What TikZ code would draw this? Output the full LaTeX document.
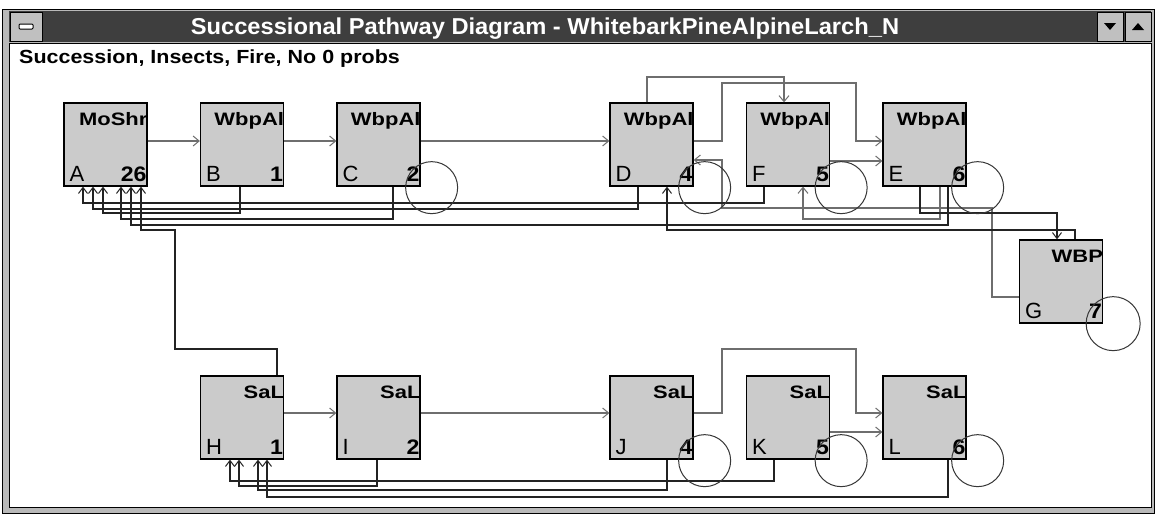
\documentclass[tikz,border=0pt]{standalone}
\usepackage{fontspec}
\setmainfont{Liberation Sans}
\usetikzlibrary{arrows.meta,calc}
\definecolor{boxgray}{RGB}{203,203,203}
\definecolor{sucgray}{RGB}{110,110,110}
\definecolor{disblack}{RGB}{35,35,35}
\definecolor{titlegray}{RGB}{62,62,62}
\definecolor{framegray}{RGB}{185,185,185}
\definecolor{btngray}{RGB}{192,192,192}
\definecolor{loopgray}{RGB}{55,55,55}
\newcommand{\stlabels}[4]{%
  \node[toplab] (#1t) at ([yshift=-23pt]#1.north east) {\scalebox{1.22}[1]{#2}};
  \node[letlab] (#1l) at ([xshift=6pt,yshift=5pt]#1.south west) {#3};
  \node[numlab] (#1n) at ([xshift=-1pt,yshift=5pt]#1.south east) {\scalebox{1.1}[1]{#4}};
}
\begin{document}
\begin{tikzpicture}[x=1pt,y=-1pt,
  statebox/.style={draw=black, line width=1.3pt, fill=boxgray, minimum width=83pt, minimum height=83pt, inner sep=0pt},
  toplab/.style={font=\fontsize{18}{18}\selectfont\bfseries, inner sep=0pt, anchor=base east},
  letlab/.style={font=\fontsize{22}{22}\selectfont, inner sep=0pt, anchor=base west},
  numlab/.style={font=\fontsize{21}{21}\selectfont\bfseries, inner sep=0pt, anchor=base east},
  suc/.style={draw=sucgray, line width=1.1pt, -{Straight Barb[length=6pt,width=10pt,line width=1pt]}},
  dis/.style={draw=disblack, line width=1.3pt, -{Straight Barb[length=6pt,width=9pt,line width=1pt]}},
  selfloop/.style={draw=loopgray, line width=1pt},
  btn/.style={fill=btngray, draw=black, line width=0.8pt}
]
\useasboundingbox (0,0) rectangle (1156,514);
\fill[white] (0,0) rectangle (1156,514);
% window frame
\filldraw[fill=framegray, draw=black, line width=1pt] (2,9) rectangle (1154,513);
\fill[titlegray] (9,11) rectangle (1151,42);
\filldraw[fill=white, draw=black, line width=1pt] (9,43) rectangle (1151,507);
% system menu and buttons
\filldraw[btn] (10,12) rectangle (42,41);
\filldraw[fill=white, draw=black, line width=1pt, rounded corners=1pt] (19,24) rectangle (33,29);
\filldraw[btn] (1097,12) rectangle (1123,41);
\filldraw[btn] (1125,12) rectangle (1151,41);
\fill[black] (1104,23) -- (1116,23) -- (1110,30) -- cycle;
\fill[black] (1132,30) -- (1144,30) -- (1138,23) -- cycle;
\node[anchor=base, text=white, inner sep=0pt, font=\fontsize{23}{23}\selectfont\bfseries] (title) at (545,34)
  {\scalebox{1.03}[1]{Successional Pathway Diagram - WhitebarkPineAlpineLarch\_N}};
\node[anchor=base west, inner sep=0pt, font=\fontsize{19}{19}\selectfont\bfseries] (sub) at (19,63)
  {\scalebox{1.13}[1]{Succession, Insects, Fire, No 0 probs}};
% state boxes
\node[statebox] (A) at (105.5,144.5) {};
\node[statebox] (B) at (242,144.5) {};
\node[statebox] (C) at (378.5,144.5) {};
\node[statebox] (D) at (651.5,144.5) {};
\node[statebox] (F) at (788,144.5) {};
\node[statebox] (E) at (924.5,144.5) {};
\node[statebox] (G) at (1061,281.5) {};
\node[statebox] (H) at (242,417.5) {};
\node[statebox] (I) at (378.5,417.5) {};
\node[statebox] (J) at (651.5,417.5) {};
\node[statebox] (K) at (788,417.5) {};
\node[statebox] (L) at (924.5,417.5) {};
\stlabels{A}{MoShr}{A}{26}
\stlabels{B}{WbpAl}{B}{1}
\stlabels{C}{WbpAl}{C}{2}
\stlabels{D}{WbpAl}{D}{4}
\stlabels{F}{WbpAl}{F}{5}
\stlabels{E}{WbpAl}{E}{6}
\stlabels{G}{WBP}{G}{7}
\stlabels{H}{SaL}{H}{1}
\stlabels{I}{SaL}{I}{2}
\stlabels{J}{SaL}{J}{4}
\stlabels{K}{SaL}{K}{5}
\stlabels{L}{SaL}{L}{6}
% succession (gray) pathways, top row
\draw[suc] (A.east |- 0,141) -- (B.west |- 0,141);
\draw[suc] (B.east |- 0,141) -- (C.west |- 0,141);
\draw[suc] (C.east |- 0,141) -- (D.west |- 0,141);
\draw[suc] (D.north -| 647,0) -- (647,77) -- (784,77) -- (F.north -| 784,0);
\draw[suc] (D.east |- 0,141) -- (722,141) -- (722,83) -- (856,83) -- (856,141) -- (E.west |- 0,141);
\draw[suc] (F.east |- 0,161) -- (E.west |- 0,161);
\draw[suc] (E.south -| 940,0) -- (940,219) -- (803,219) -- (F.south -| 803,0);
\draw[suc] (G.west |- 0,297) -- (992,297) -- (992,208) -- (722,208) -- (722,160) -- (D.east |- 0,160);
% disturbance (black) pathways, top row
\draw[dis] (F.south -| 764,0) -- (764,203) -- (83,203) -- (A.south -| 83,0);
\draw[dis] (D.south -| 638,0) -- (638,209) -- (93,209) -- (A.south -| 93,0);
\draw[dis] (B.south -| 240,0) -- (240,213) -- (103,213) -- (A.south -| 103,0);
\draw[dis] (C.south -| 393,0) -- (393,219) -- (121,219) -- (A.south -| 121,0);
\draw[dis] (E.south -| 948,0) -- (948,225) -- (131,225) -- (A.south -| 131,0);
\draw[dis] (H.north -| 277,0) -- (277,349) -- (175,349) -- (175,230) -- (141,230) -- (A.south -| 141,0);
\draw[dis] (E.south -| 920,0) -- (920,213) -- (1057,213) -- (G.north -| 1057,0);
\draw[dis] (G.north -| 1075,0) -- (1075,230) -- (667,230) -- (D.south -| 667,0);
% bottom row
\draw[suc] (H.east |- 0,413) -- (I.west |- 0,413);
\draw[suc] (I.east |- 0,413) -- (J.west |- 0,413);
\draw[suc] (J.east |- 0,413) -- (722,413) -- (722,349) -- (856,349) -- (856,413) -- (L.west |- 0,413);
\draw[suc] (K.east |- 0,432) -- (L.west |- 0,432);
\draw[dis] (K.south -| 774,0) -- (774,481) -- (230,481) -- (H.south -| 230,0);
\draw[dis] (I.south -| 377,0) -- (377,486) -- (239,486) -- (H.south -| 239,0);
\draw[dis] (J.south -| 667,0) -- (667,490) -- (258,490) -- (H.south -| 258,0);
\draw[dis] (L.south -| 948,0) -- (948,497) -- (267,497) -- (H.south -| 267,0);
% self loops
\foreach \s in {C,D,F,E,J,K,L}{
  \draw[selfloop] ([xshift=11pt,yshift=-1pt]\s.south east) circle[radius=26pt];
}
\draw[selfloop] ([xshift=10pt]G.south east) circle[radius=27pt];
\end{tikzpicture}
\end{document}
